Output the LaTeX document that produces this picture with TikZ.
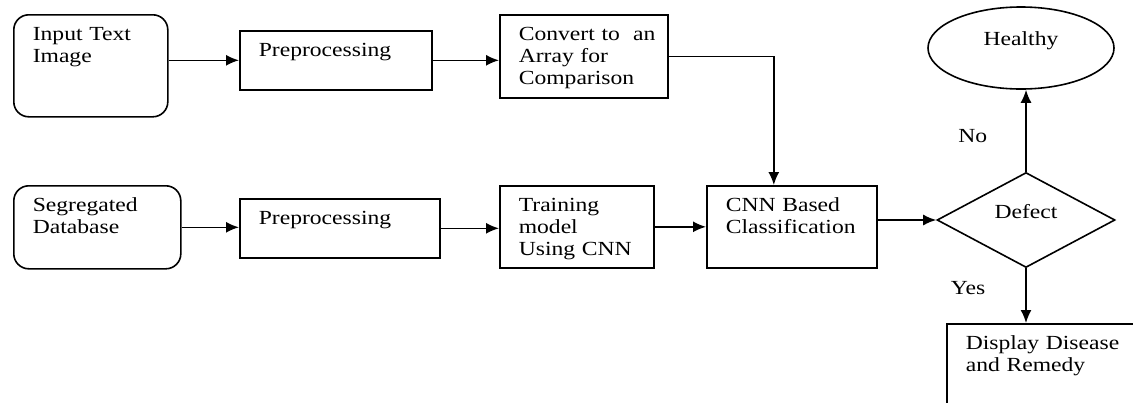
\documentclass[tikz,border=0pt]{standalone}
\usepackage{fontspec}
\setmainfont{Liberation Serif}[FakeStretch=1.18]
\usepackage{tikz}
\usetikzlibrary{shapes.geometric, arrows.meta, positioning}
\tikzstyle{source} = [rectangle, rounded corners = 7.5pt, draw, anchor = north west,
align = left, inner xsep = 9.5pt, inner ysep = 4pt, text height = 9pt]
\tikzstyle{process} = [rectangle, draw, anchor = north west, align = left,
inner xsep = 9.5pt, inner ysep = 4pt, text height = 9pt]
\tikzstyle{result} = [ellipse, draw, minimum width = 93pt, minimum height = 41pt,
inner sep = 0pt, text height = 7pt, text depth = 10pt]
\tikzstyle{condition} = [diamond, draw, minimum width = 89pt, minimum height = 47.5pt,
inner sep = 0pt, text height = 7pt, text depth = 9pt]
\tikzstyle{arrow} = [->, >={Latex[length = 6.5pt, width = 5.5pt]}]

\begin{document}
\begin{tikzpicture}[x = 0.5pt, y = -0.5pt, line width = 0.8pt, font = \fontsize{10pt}{11pt}\selectfont]

    \clip (0,0) rectangle (1133,402);

    \node (input) [source, text width = 58pt, text depth = 34pt] at (13,14) {Input Text \\ Image};
    \node (prep1) [process, text width = 77pt, text depth = 12.5pt] at (239,30) {Preprocessing};
    \node (convert) [process, text width = 65pt, text depth = 24.5pt] at (499,14) {Convert~to~~an \\ Array for \\ Comparison};
    \node (healthy) [result] at (1021,48) {Healthy};

    \node (database) [source, text width = 64.5pt, text depth = 24.5pt] at (13,185) {Segregated \\ Database};
    \node (prep2) [process, text width = 81pt, text depth = 12.5pt] at (239,198) {Preprocessing};
    \node (training) [process, text width = 58pt, text depth = 24pt] at (499,185) {Training \\ model \\ Using~CNN};
    \node (cnn) [process, text width = 66pt, text depth = 24pt] at (706,185) {CNN Based \\ Classification};
    \node (defect) [condition] at (1026,220) {Defect};
    \node (display) [process, text width = 83pt, text depth = 27.5pt] at (946,323) {Display~Disease \\ and Remedy};

    \draw[arrow] (input.east |- prep1.west) -- (prep1.west);
    \draw[arrow] (prep1.east) -- (prep1.east -| convert.west);
    \draw[arrow] (convert.east) -| ([xshift = -9pt]cnn.north);
    \draw[arrow] (database.east) -- (database.east -| prep2.west);
    \draw[arrow] (prep2.east) -- (prep2.east -| training.west);
    \draw[arrow] (training.east) -- (cnn.west);
    \draw[arrow] (cnn.east |- defect.west) -- (defect.west);
    \draw[arrow] (defect.north) -- node[pos = 0.43, left = 19pt, inner sep = 0pt]{No} (defect.north |- healthy.south);
    \draw[arrow] (defect.south) -- node[pos = 0.36, left = 20pt, inner sep = 0pt]{Yes} (defect.south |- display.north);

\end{tikzpicture}
\end{document}
